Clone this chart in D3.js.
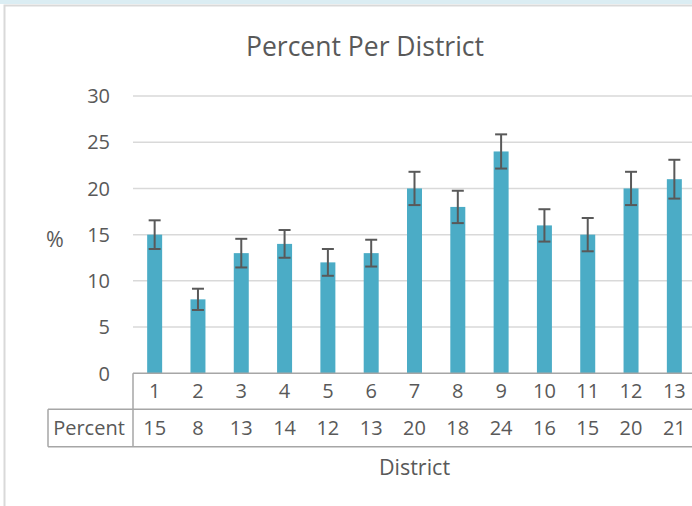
<!DOCTYPE html>
<html>
<head>
<meta charset="utf-8">
<script src="https://cdn.jsdelivr.net/npm/d3@7"></script>
<style>
  body { margin: 0; background: #fff; }
  text { font-family: "Open Sans", sans-serif; fill: #595959; }
</style>
</head>
<body>
<svg id="chart" width="692" height="506"></svg>
<script>
// data
const districts = ["1", "2", "3", "4", "5", "6", "7", "8", "9", "10", "11", "12", "13"];
const percents = [15, 8, 13, 14, 12, 13, 20, 18, 24, 16, 15, 20, 21];
const errors = [1.55, 1.15, 1.55, 1.5, 1.45, 1.45, 1.8, 1.75, 1.85, 1.75, 1.8, 1.8, 2.1];
const yTicks = [0, 5, 10, 15, 20, 25, 30];

const svg = d3.select("#chart");

// frame bits (light band on top, grey chart border)
svg.append("rect").attr("x", 0).attr("y", 0).attr("width", 692).attr("height", 4)
   .attr("fill", "#dbedf3");
svg.append("rect").attr("x", 4.5).attr("y", 5.5).attr("width", 720).attr("height", 520)
   .attr("fill", "#fff").attr("stroke", "#d9d9d9").attr("stroke-width", 2);

// plot area
const plotLeft = 133, plotRight = 696, plotTop = 96, plotBottom = 373.3;

const x = d3.scaleBand()
            .domain(districts)
            .range([plotLeft, plotRight])
            .paddingInner(0.654)
            .paddingOuter(0.327);

const y = d3.scaleLinear()
            .domain([0, 30])
            .range([plotBottom, plotTop]);

// gridlines
svg.append("g")
   .selectAll("line")
   .data(yTicks.filter(d => d > 0))
   .enter().append("line")
   .attr("x1", plotLeft).attr("x2", 692)
   .attr("y1", d => y(d)).attr("y2", d => y(d))
   .attr("stroke", "#d9d9d9").attr("stroke-width", 1.5);

// y tick labels
svg.append("g")
   .selectAll("text")
   .data(yTicks)
   .enter().append("text")
   .attr("x", 110)
   .attr("y", d => y(d))
   .attr("dy", "0.36em")
   .attr("text-anchor", "end")
   .attr("font-size", 20)
   .text(d => d);

// bars
svg.append("g")
   .selectAll("rect")
   .data(percents)
   .enter().append("rect")
   .attr("x", (d, i) => x(districts[i]))
   .attr("y", d => y(d))
   .attr("width", x.bandwidth())
   .attr("height", d => plotBottom - y(d))
   .attr("fill", "#4bacc6");

// error bars
const eb = svg.append("g").attr("stroke", "#595959").attr("stroke-width", 2);
percents.forEach((v, i) => {
    const cx = x(districts[i]) + x.bandwidth() / 2;
    const top = y(v + errors[i]), bot = y(v - errors[i]);
    eb.append("line").attr("x1", cx).attr("x2", cx).attr("y1", top).attr("y2", bot);
    eb.append("line").attr("x1", cx - 6).attr("x2", cx + 6).attr("y1", top).attr("y2", top);
    eb.append("line").attr("x1", cx - 6).attr("x2", cx + 6).attr("y1", bot).attr("y2", bot);
});

// data table under the axis
const rowMid = 409.3, rowBot = 446.7, tableLeft = 48;
const tbl = svg.append("g").attr("stroke", "#a6a6a6").attr("stroke-width", 1.5).attr("fill", "none");
tbl.append("line").attr("x1", plotLeft).attr("x2", 692).attr("y1", plotBottom).attr("y2", plotBottom);
tbl.append("line").attr("x1", tableLeft).attr("x2", 692).attr("y1", rowMid).attr("y2", rowMid);
tbl.append("line").attr("x1", tableLeft).attr("x2", 692).attr("y1", rowBot).attr("y2", rowBot);
tbl.append("line").attr("x1", plotLeft).attr("x2", plotLeft).attr("y1", plotBottom).attr("y2", rowBot);
tbl.append("line").attr("x1", tableLeft).attr("x2", tableLeft).attr("y1", rowMid).attr("y2", rowBot);

svg.append("g")
   .selectAll("text")
   .data(districts)
   .enter().append("text")
   .attr("x", d => x(d) + x.bandwidth() / 2)
   .attr("y", 398)
   .attr("text-anchor", "middle")
   .attr("font-size", 20)
   .text(d => d);

svg.append("g")
   .selectAll("text")
   .data(percents)
   .enter().append("text")
   .attr("x", (d, i) => x(districts[i]) + x.bandwidth() / 2)
   .attr("y", 435)
   .attr("text-anchor", "middle")
   .attr("font-size", 20)
   .text(d => d);

svg.append("text")
   .attr("x", 89).attr("y", 435)
   .attr("text-anchor", "middle")
   .attr("font-size", 20)
   .text("Percent");

// titles
svg.append("text")
   .attr("x", 365).attr("y", 56)
   .attr("text-anchor", "middle")
   .attr("font-size", 26.5)
   .text("Percent Per District");

svg.append("text")
   .attr("x", (plotLeft + plotRight) / 2).attr("y", 475)
   .attr("text-anchor", "middle")
   .attr("font-size", 21.5)
   .text("District");

svg.append("text")
   .attr("x", 55).attr("y", 247)
   .attr("text-anchor", "middle")
   .attr("font-size", 21.5)
   .text("%");
</script>
</body>
</html>
